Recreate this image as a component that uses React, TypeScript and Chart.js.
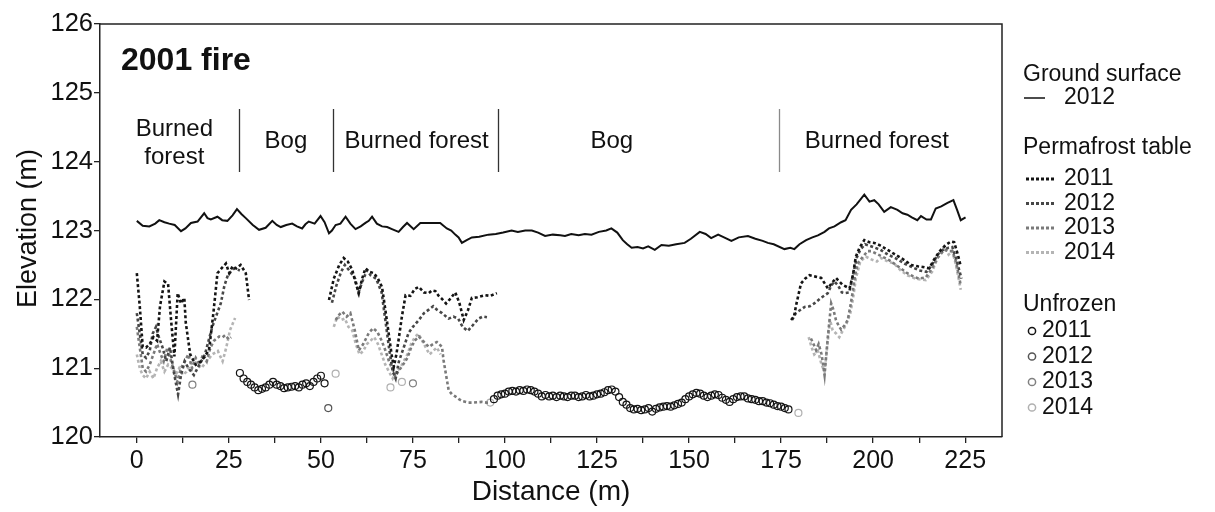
import React, { useEffect, useRef } from 'react';
import { Chart, registerables } from 'chart.js';
Chart.register(...registerables);

const FONT = "'Liberation Sans', Arial, Helvetica, sans-serif";

const panelTitle = '2001 fire';
const xTickValues = [0, 12.5, 25, 37.5, 50, 62.5, 75, 87.5, 100, 112.5, 125, 137.5, 150, 162.5, 175, 187.5, 200, 212.5, 225];
const yTickValues = [120, 121, 122, 123, 124, 125, 126];

const sectionBoundaries = [27.8, 53.3, 98, 174.4];
const sectionLabels = [
  { x: 10.2, lines: ['Burned', 'forest'] },
  { x: 40.5, lines: ['Bog'] },
  { x: 76, lines: ['Burned forest'] },
  { x: 129, lines: ['Bog'] },
  { x: 201, lines: ['Burned forest'] },
];

const groundX = [0, 1.6, 3.4, 5, 6.1, 7.5, 8.8, 10.3, 12, 13.2, 14.7, 16.5, 18.3, 19.2, 20.1, 21.9, 23.2, 24.6, 26, 27.2, 28.4, 29.6, 31.5, 33.2, 35, 36.8, 38, 39.1, 40.6, 42.2, 43.5, 44.9, 45.8, 46.7, 48.3, 49.9, 51, 52.2, 53, 54, 55.3, 56.7, 58, 59.4, 60.8, 62.1, 63, 63.9, 65.2, 66.6, 68, 69.3, 71.1, 72.3, 73.4, 75.2, 77, 79, 80.5, 82.4, 84.2, 85.4, 86.5, 87.4, 88.3, 89.6, 91, 93, 95.5, 97.5, 99.5, 101.8, 103.5, 105.5, 107.3, 109, 110.9, 113, 115, 116.3, 118, 120, 121.7, 123.5, 125.5, 127.5, 128.9, 130.5, 132, 133.2, 134.4, 136, 137.5, 138.9, 140.7, 142.5, 144.5, 146.5, 148.8, 150.5, 152.9, 154.5, 156, 157.9, 159.5, 161.5, 163.5, 166, 168, 170, 171.4, 173, 175.9, 177.5, 178.6, 180, 181.8, 183.5, 185, 186.8, 188, 189.5, 191.3, 192.5, 194, 195.5, 197.6, 199, 200.3, 201.5, 203, 204.8, 206.6, 208, 209.3, 210.5, 212, 213, 214.5, 215.7, 217, 218.5, 220.2, 221.8, 222.8, 223.8, 225.1];
const groundY = [123.14, 123.07, 123.06, 123.1, 123.15, 123.12, 123.1, 123.08, 122.99, 123.03, 123.11, 123.13, 123.25, 123.18, 123.16, 123.2, 123.15, 123.14, 123.22, 123.31, 123.24, 123.18, 123.08, 123.01, 123.04, 123.14, 123.08, 123.05, 123.08, 123.1, 123.06, 123.03, 123.09, 123.13, 123.1, 123.21, 123.12, 122.96, 123.0, 123.08, 123.1, 123.2, 123.1, 123.02, 123.06, 123.11, 123.14, 123.2, 123.1, 123.06, 123.05, 123.02, 122.98, 123.05, 123.11, 123.02, 123.11, 123.11, 123.11, 123.11, 123.03, 123.0, 122.94, 122.9, 122.82, 122.86, 122.9, 122.91, 122.94, 122.95, 122.97, 123.0, 122.98, 123.0, 123.0, 122.97, 122.92, 122.94, 122.93, 122.92, 122.95, 122.93, 122.95, 122.94, 122.98, 123.0, 123.03, 122.97, 122.86, 122.8, 122.75, 122.76, 122.74, 122.77, 122.72, 122.79, 122.78, 122.8, 122.82, 122.88, 122.98, 122.95, 122.89, 122.94, 122.9, 122.85, 122.9, 122.92, 122.88, 122.85, 122.82, 122.8, 122.73, 122.75, 122.73, 122.8, 122.86, 122.9, 122.93, 122.98, 123.03, 123.06, 123.12, 123.15, 123.3, 123.38, 123.52, 123.42, 123.44, 123.38, 123.27, 123.34, 123.3, 123.25, 123.23, 123.19, 123.15, 123.21, 123.16, 123.16, 123.32, 123.35, 123.4, 123.44, 123.3, 123.15, 123.19];

const permafrost2011 = [
  [[0, 122.38], [0.8, 121.9], [1.6, 121.31], [2.5, 121.3], [3.5, 121.35], [4.5, 121.45], [5.5, 121.4], [6.3, 121.9], [7.5, 122.26], [8.5, 122.22], [9.3, 121.7], [10.2, 121.17], [11.1, 122.09], [12, 121.94], [12.9, 122.02], [13.3, 121.66], [14.5, 121.2], [16, 121.05], [17.5, 121.1], [19.6, 121.26], [20.8, 121.8], [21.9, 122.38], [23, 122.45], [24.2, 122.52], [25.1, 122.38], [26, 122.48], [27, 122.45], [28.2, 122.5], [29.6, 122.38], [30.5, 121.99]],
  [[52.2, 121.99], [53.5, 122.3], [55, 122.5], [56.2, 122.6], [57.3, 122.55], [58.5, 122.43], [59.4, 122.25], [60.3, 122.09], [61.2, 122.3], [62.1, 122.45], [63.2, 122.4], [64.4, 122.38], [65.5, 122.3], [66.6, 122.18], [67.5, 121.85], [68.4, 121.51], [69.2, 121.2], [69.8, 121.02], [70.5, 121.2], [71.1, 121.41], [72, 121.75], [73, 122.06], [74.3, 122.05], [75.5, 122.15], [76.6, 122.18], [78, 122.1], [79.3, 122.09], [80.2, 122.13], [81.1, 122.12], [82, 122.05], [83, 122.0], [84, 121.94], [85, 122.0], [86.5, 122.1], [87.6, 121.95], [88.8, 121.7], [90, 121.85], [91, 122.02], [92.5, 122.03], [94.6, 122.06], [96, 122.05], [97.8, 122.09]],
  [[177.7, 121.7], [178.5, 121.75], [179.1, 121.92], [180.4, 122.23], [181.5, 122.3], [182.7, 122.35], [184.3, 122.33], [185.9, 122.31], [187.7, 122.16], [189, 122.25], [189.9, 122.31], [191.7, 122.21], [193.6, 122.16], [194.5, 122.35], [195.3, 122.62], [196.3, 122.75], [197.6, 122.86], [199, 122.83], [200.3, 122.82], [202, 122.78], [203.9, 122.72], [206, 122.65], [208.5, 122.57], [210.3, 122.5], [212.1, 122.48], [213.5, 122.47], [215.2, 122.45], [216.8, 122.6], [218.4, 122.72], [220, 122.8], [221.1, 122.84], [222, 122.83], [223, 122.65], [223.8, 122.48]],
];
const permafrost2012 = [
  [[0, 121.8], [0.8, 121.5], [1.6, 121.2], [2.5, 121.15], [3.5, 121.25], [4.3, 121.5], [5.2, 121.6], [6, 121.45], [7, 121.3], [8, 121.1], [9, 121.3], [10.2, 120.9], [11.2, 120.62], [12, 120.9], [13, 121.1], [14, 121.0], [15.5, 120.9], [17, 121.05], [18.5, 121.2], [19.5, 121.4], [20.5, 121.6], [21.5, 121.75], [22.8, 121.94], [23.8, 122.2], [24.6, 122.33], [25.5, 122.4], [26.5, 122.45], [28, 122.42]],
  [[53, 121.95], [54.2, 122.2], [55.5, 122.4], [56.5, 122.5], [58, 122.4], [59.3, 122.3], [60.2, 122.1], [61.2, 122.25], [62.5, 122.42], [63.5, 122.35], [65, 122.3], [66.5, 122.1], [67.5, 121.7], [68.5, 121.3], [69.5, 120.95], [70.3, 120.85], [71.2, 121.1], [72.5, 121.3], [73.8, 121.51], [75, 121.6], [76.6, 121.7], [78, 121.8], [79.3, 121.85], [80.5, 121.9], [81.5, 121.85], [82.9, 121.8], [84, 121.75], [84.7, 121.72], [86, 121.75], [87.3, 121.72], [88.5, 121.6], [89.9, 121.54], [91.2, 121.62], [92.8, 121.72], [94, 121.75], [95.1, 121.74]],
  [[178, 121.7], [179, 121.8], [181.4, 121.89], [182.8, 121.9], [184, 121.94], [185.8, 122.02], [187.7, 122.09], [188.6, 122.2], [189.5, 122.26], [190.5, 122.2], [191.5, 122.1], [192.2, 122.09], [193.5, 122.1], [194.5, 122.35], [195.5, 122.6], [196.5, 122.72], [197.8, 122.8], [199, 122.78], [200.5, 122.75], [202, 122.72], [204, 122.65], [206, 122.6], [208.5, 122.52], [210.5, 122.47], [212.5, 122.42], [214.5, 122.4], [216, 122.5], [217.5, 122.65], [219, 122.72], [220.5, 122.75], [221.5, 122.76], [222.5, 122.6], [223.5, 122.4], [224, 122.3]],
];
const permafrost2013 = [
  [[0, 121.6], [0.8, 121.3], [1.6, 121.0], [2.5, 120.95], [3.5, 121.05], [4.5, 121.2], [5.5, 121.35], [6.5, 121.2], [7.3, 121.1], [8.3, 121.3], [9.3, 121.1], [10.2, 120.95], [11, 120.8], [12, 121.0], [13, 121.1], [14, 121.2], [15, 121.0], [16, 121.15], [17, 121.05], [18, 121.2], [19, 121.1], [20, 121.3], [21, 121.4], [22.4, 121.46], [23.3, 121.45], [24, 121.48], [25, 121.42], [25.6, 121.45]],
  [[54, 121.7], [55, 121.78], [55.8, 121.82], [57, 121.75], [58, 121.8], [59.2, 121.55], [60.3, 121.26], [61.5, 121.35], [63, 121.51], [64.2, 121.58], [65.3, 121.53], [66.5, 121.4], [67.5, 121.26], [68.5, 121.1], [69.3, 121.0], [70.2, 120.88], [71, 120.95], [72.3, 121.05], [73.5, 121.15], [74.5, 121.3], [75.5, 121.4], [76.6, 121.46], [78, 121.38], [79.3, 121.31], [80.5, 121.35], [81.5, 121.38], [82.9, 121.31], [83.3, 121.12], [84, 120.9], [84.7, 120.68], [85.6, 120.62], [86.5, 120.59], [87.5, 120.55], [88.5, 120.52], [90.1, 120.5], [91.5, 120.5], [93.7, 120.51], [95, 120.5], [96, 120.5]],
  [[183.1, 121.43], [183.8, 121.35], [184.5, 121.26], [185.2, 121.35], [186, 121.2], [186.8, 120.9], [187.7, 121.46], [188.6, 121.94], [189.2, 121.85], [189.9, 121.7], [190.6, 121.62], [191.3, 121.56], [192.2, 121.62], [193.1, 121.7], [193.8, 121.9], [194.4, 122.09], [195.1, 122.35], [195.8, 122.52], [197.2, 122.62], [198.5, 122.7], [199.5, 122.7], [201, 122.66], [202.5, 122.62], [204, 122.58], [205.7, 122.52], [207.5, 122.45], [209.3, 122.38], [211, 122.33], [212.5, 122.3], [214.3, 122.32], [216, 122.45], [217.5, 122.6], [219.3, 122.72], [220.5, 122.7], [221.5, 122.7], [222.5, 122.55], [223.8, 122.2]],
];
const permafrost2014 = [
  [[0, 121.2], [0.8, 121.0], [1.6, 120.9], [2.5, 120.85], [3.5, 120.95], [4.5, 120.85], [5.5, 121.0], [6.5, 121.1], [7.5, 120.95], [8.5, 121.05], [9.5, 121.0], [10.5, 120.9], [11.5, 121.0], [12.5, 120.9], [13.5, 120.95], [14.5, 121.05], [15.5, 121.1], [16.5, 121.05], [17.5, 121.0], [19, 121.1], [20.5, 121.2], [22, 121.25], [23.3, 121.1], [24.3, 121.3], [25.3, 121.55], [26.7, 121.73]],
  [[53.5, 121.6], [54.5, 121.75], [55.5, 121.7], [56.5, 121.72], [57.5, 121.6], [58.5, 121.55], [59.5, 121.35], [60.5, 121.2], [61.5, 121.25], [62.5, 121.35], [63.5, 121.4], [64.5, 121.45], [65.5, 121.35], [66.5, 121.2], [67.5, 121.05], [68.5, 120.95], [69.5, 120.85], [70.5, 120.95], [71.5, 121.0], [72.5, 121.1], [73.5, 121.2], [74.5, 121.35], [75.5, 121.45], [76.5, 121.5], [77.5, 121.4], [78.5, 121.3], [79.5, 121.2], [80.5, 121.25], [81.5, 121.3], [82.5, 121.2]],
  [[182.5, 121.45], [183.3, 121.3], [184, 121.2], [185, 121.25], [186, 121.05], [186.8, 120.95], [187.5, 121.3], [188.3, 121.7], [189, 121.55], [190, 121.5], [190.8, 121.45], [191.8, 121.55], [192.8, 121.65], [193.8, 121.8], [194.5, 122.0], [195.3, 122.3], [196.5, 122.55], [198, 122.62], [199.5, 122.58], [201, 122.55], [202.1, 122.6], [204, 122.55], [205.7, 122.52], [207.5, 122.42], [209.3, 122.35], [211.5, 122.3], [214.3, 122.28], [216, 122.4], [217.5, 122.6], [219.3, 122.77], [220.5, 122.65], [221.5, 122.7], [222.5, 122.5], [223.8, 122.14]],
];

const unfrozen2011X = [28, 29, 30, 31, 32, 33, 34, 35, 36, 37, 38, 39, 40, 41, 42, 43, 44, 45, 46, 47, 48, 49, 50, 51,
  97, 98, 99, 100, 101, 102, 103, 104, 105, 106, 107, 108, 109, 110, 111, 112, 113, 114, 115, 116, 117, 118, 119, 120, 121, 122, 123, 124, 125, 126, 127, 128, 129, 130, 131, 132, 133, 134, 135, 136, 137, 138, 139, 140, 141, 142, 143, 144, 145, 146, 147, 148, 149, 150, 151, 152, 153, 154, 155, 156, 157, 158, 159, 160, 161, 162, 163, 164, 165, 166, 167, 168, 169, 170, 171, 172, 173, 174, 175, 176, 177];
const unfrozen2011Y = [120.93, 120.85, 120.8, 120.76, 120.72, 120.68, 120.7, 120.72, 120.76, 120.8, 120.76, 120.74, 120.71, 120.72, 120.73, 120.74, 120.72, 120.76, 120.78, 120.74, 120.8, 120.85, 120.89, 120.78,
  120.55, 120.6, 120.62, 120.63, 120.66, 120.67, 120.66, 120.68, 120.67, 120.69, 120.68, 120.66, 120.63, 120.59, 120.61, 120.59, 120.6, 120.58, 120.6, 120.59, 120.58, 120.6, 120.6, 120.58, 120.59, 120.61, 120.59, 120.6, 120.62, 120.63, 120.65, 120.68, 120.69, 120.66, 120.58, 120.51, 120.47, 120.42, 120.4, 120.41, 120.39, 120.4, 120.42, 120.37, 120.41, 120.43, 120.44, 120.45, 120.44, 120.46, 120.48, 120.5, 120.55, 120.59, 120.62, 120.64, 120.63, 120.6, 120.58, 120.6, 120.62, 120.61, 120.57, 120.54, 120.51, 120.55, 120.58, 120.59, 120.59, 120.56, 120.55, 120.54, 120.52, 120.52, 120.5, 120.49, 120.47, 120.45, 120.44, 120.42, 120.4];
const unfrozen2012X = [52];
const unfrozen2012Y = [120.42];
const unfrozen2013X = [15.1, 75];
const unfrozen2013Y = [120.76, 120.78];
const unfrozen2014X = [54, 68.9, 72, 96, 179.7];
const unfrozen2014Y = [120.92, 120.72, 120.8, 120.5, 120.35];

const yearLabels = ['2011', '2012', '2013', '2014'];
const pfColors = ['#141414', '#474747', '#7a7a7a', '#b4b4b4'];
const ufColors = ['#141414', '#555555', '#808080', '#b0b0b0'];

function segPoints(segments: number[][][]) {
  const out: { x: number; y: number | null }[] = [];
  segments.forEach((seg, i) => {
    seg.forEach(([x, y]) => out.push({ x, y }));
    if (i < segments.length - 1) out.push({ x: seg[seg.length - 1][0], y: null });
  });
  return out;
}
function zipPoints(xs: number[], ys: number[]) {
  return xs.map((x, i) => ({ x, y: ys[i] }));
}

const overlay = {
  id: 'overlay',
  afterDraw(chart: any) {
    const { ctx, chartArea: a, scales } = chart;
    const xs = scales.x;
    ctx.save();
    ctx.strokeStyle = '#222';
    ctx.lineWidth = 1.5;
    ctx.setLineDash([]);
    ctx.beginPath();
    ctx.moveTo(a.left, a.top);
    ctx.lineTo(a.right, a.top);
    ctx.lineTo(a.right, a.bottom);
    ctx.stroke();

    ctx.fillStyle = '#111';
    ctx.textBaseline = 'middle';
    ctx.textAlign = 'left';
    ctx.font = `bold 32px ${FONT}`;
    ctx.fillText(panelTitle, a.left + 21, 61);

    sectionBoundaries.forEach((b, i) => {
      const px = Math.round(xs.getPixelForValue(b)) + 0.5;
      ctx.strokeStyle = i === sectionBoundaries.length - 1 ? '#8a8a8a' : '#333';
      ctx.lineWidth = 1.3;
      ctx.beginPath();
      ctx.moveTo(px, 109);
      ctx.lineTo(px, 172);
      ctx.stroke();
    });
    ctx.font = `24px ${FONT}`;
    ctx.textAlign = 'center';
    ctx.fillStyle = '#111';
    sectionLabels.forEach((s) => {
      const px = xs.getPixelForValue(s.x);
      if (s.lines.length === 2) {
        ctx.fillText(s.lines[0], px, 129);
        ctx.fillText(s.lines[1], px, 157);
      } else {
        ctx.fillText(s.lines[0], px, 141);
      }
    });

    ctx.font = `27px ${FONT}`;
    ctx.textAlign = 'center';
    ctx.save();
    ctx.translate(29, (a.top + a.bottom) / 2 - 2);
    ctx.rotate(-Math.PI / 2);
    ctx.fillText('Elevation (m)', 0, 0);
    ctx.restore();
    ctx.font = `28px ${FONT}`;
    ctx.fillText('Distance (m)', (a.left + a.right) / 2, 492);

    const lx = 1023;
    ctx.textAlign = 'left';
    ctx.font = `23px ${FONT}`;
    ctx.fillStyle = '#111';
    ctx.fillText('Ground surface', lx, 75);
    ctx.strokeStyle = '#111';
    ctx.lineWidth = 1.5;
    ctx.beginPath();
    ctx.moveTo(lx + 1, 98);
    ctx.lineTo(lx + 22, 98);
    ctx.stroke();
    ctx.fillText('2012', lx + 41, 98);

    ctx.fillText('Permafrost table', lx, 148);
    yearLabels.forEach((yr, i) => {
      const yy = 179 + i * 24.5;
      ctx.strokeStyle = pfColors[i];
      ctx.lineWidth = 3;
      ctx.setLineDash([3, 2]);
      ctx.beginPath();
      ctx.moveTo(lx + 3, yy);
      ctx.lineTo(lx + 31, yy);
      ctx.stroke();
      ctx.setLineDash([]);
      ctx.fillStyle = '#111';
      ctx.fillText(yr, lx + 41, yy);
    });

    ctx.fillText('Unfrozen', lx, 305);
    yearLabels.forEach((yr, i) => {
      const yy = 331 + i * 25.5;
      ctx.strokeStyle = ufColors[i];
      ctx.lineWidth = 1.5;
      ctx.beginPath();
      ctx.arc(lx + 9, yy, 3.6, 0, Math.PI * 2);
      ctx.stroke();
      ctx.fillStyle = '#111';
      ctx.fillText(yr, lx + 19, yy);
    });
    ctx.restore();
  },
};

export default function App() {
  const ref = useRef<HTMLCanvasElement | null>(null);
  useEffect(() => {
    document.body.style.margin = '0';
    const canvas = ref.current;
    if (!canvas) return;
    const pfSets = [permafrost2011, permafrost2012, permafrost2013, permafrost2014].map((segs, i) => ({
      label: 'Permafrost ' + yearLabels[i],
      data: segPoints(segs),
      borderColor: pfColors[i],
      borderWidth: 2.6,
      borderDash: [3, 2.5],
      pointRadius: 0,
      spanGaps: false,
      fill: false,
      tension: 0,
      order: 10 + i,
    }));
    const ufX = [unfrozen2011X, unfrozen2012X, unfrozen2013X, unfrozen2014X];
    const ufY = [unfrozen2011Y, unfrozen2012Y, unfrozen2013Y, unfrozen2014Y];
    const ufSets = ufX.map((xs, i) => ({
      label: 'Unfrozen ' + yearLabels[i],
      data: zipPoints(xs, ufY[i]),
      showLine: false,
      pointStyle: 'circle',
      pointRadius: 3.5,
      pointBorderWidth: 1.2,
      pointBorderColor: ufColors[i],
      pointBackgroundColor: 'rgba(255,255,255,0)',
      borderColor: ufColors[i],
      order: 20 + i,
    }));
    const chart = new Chart(canvas, {
      type: 'line',
      data: {
        datasets: [
          {
            label: 'Ground surface 2012',
            data: zipPoints(groundX, groundY),
            borderColor: '#111',
            borderWidth: 2,
            pointRadius: 0,
            tension: 0,
            fill: false,
            order: 1,
          },
          ...pfSets,
          ...ufSets,
        ] as any,
      },
      options: {
        animation: false,
        responsive: false,
        devicePixelRatio: 1,
        layout: { padding: { left: 0, right: 213, top: 24, bottom: 0 } },
        plugins: { legend: { display: false }, tooltip: { enabled: false }, title: { display: false } },
        scales: {
          x: {
            type: 'linear',
            min: -10,
            max: 235,
            afterBuildTicks: (s: any) => {
              s.ticks = xTickValues.map((v) => ({ value: v }));
            },
            afterFit: (s: any) => {
              s.height = 75;
            },
            ticks: {
              autoSkip: false,
              maxRotation: 0,
              padding: 3,
              color: '#111',
              font: { size: 25, family: FONT },
              callback: (v: any) => (Number(v) % 25 === 0 ? String(v) : ''),
            },
            grid: { drawOnChartArea: false, drawTicks: true, tickLength: 6, color: '#222', lineWidth: 1.3 },
            border: { display: true, color: '#222', width: 1.5 },
          },
          y: {
            type: 'linear',
            min: 120,
            max: 126,
            afterBuildTicks: (s: any) => {
              s.ticks = yTickValues.map((v) => ({ value: v }));
            },
            afterFit: (s: any) => {
              s.width = 100;
            },
            ticks: {
              padding: 1,
              color: '#111',
              font: { size: 25.5, family: FONT },
            },
            grid: { drawOnChartArea: false, drawTicks: true, tickLength: 6, color: '#222', lineWidth: 1.3 },
            border: { display: true, color: '#222', width: 1.5 },
          },
        },
      },
      plugins: [overlay],
    });
    return () => chart.destroy();
  }, []);
  return (
    <div style={{ width: 1215, height: 512, background: '#fff' }}>
      <canvas ref={ref} width={1215} height={512} style={{ display: 'block' }} />
    </div>
  );
}
